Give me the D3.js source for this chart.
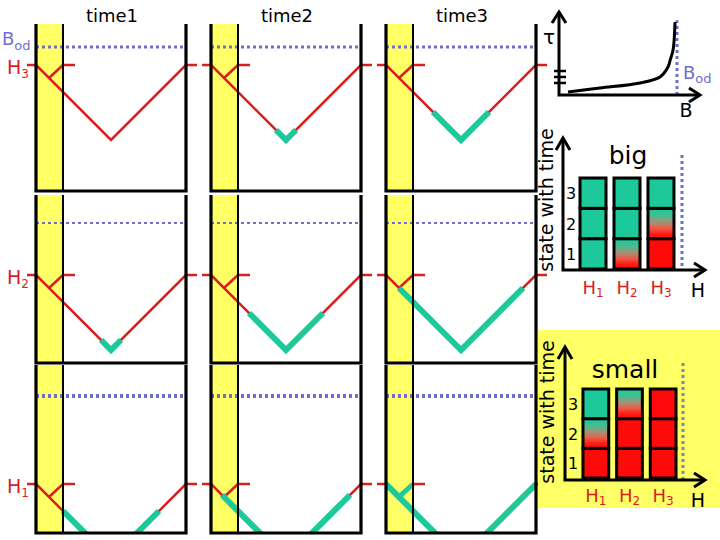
<!DOCTYPE html>
<html><head><meta charset="utf-8">
<script src="https://cdn.jsdelivr.net/npm/d3@7"></script>
<style>body{margin:0;background:#fff} svg{display:block} text{font-family:"Comic Sans MS","DejaVu Sans",sans-serif}</style>
</head><body><svg id="c" width="720" height="540"></svg>
<script>
// ---------- data ----------
const timeLabels = ["time1", "time2", "time3"];
const levelLabels = [["H", "3"], ["H", "2"], ["H", "1"]];
// half-width (panel units, vertex-relative) of the green part of each V, rows H3,H2,H1 x time1..3
const greenExtent = [[0, 10, 28], [10, 37, 62], [48, 64, 75]];
const vShape = [[0, 0], [75, 75], [150, 0]];      // panel units: x, depth below H
const reflectSeg = [[27, 0], [13, 13]];
const tickSegs = [[[-9, 0], [0, 0]], [[27, 0], [39, 0]], [[150, 0], [161, 0]]];
const tauCurve = [[0.064, 0.036], [0.29, 0.084], [0.574, 0.145], [0.716, 0.217], [0.773, 0.337], [0.79, 0.43], [0.809, 0.542], [0.823, 0.88]];
const tauTicks = [0.145, 0.217, 0.289];
const bodValue = 0.837;
const barCats = ["1", "2", "3"];
const stateLevels = [3, 2, 1];
// state per H (H1,H2,H3), per level (1,2,3): 0 red, 1 mixed, 2 green
const bigStates = [[2, 2, 2], [1, 2, 2], [0, 1, 2]];
const smallStates = [[0, 1, 2], [0, 0, 1], [0, 0, 0]];

// ---------- layout ----------
const colLeft = [36, 211, 386], panelW = 150, yellowW = 27;
const rowTop = [24, 195, 365], rowBot = [191, 363, 533];
const hY = [65, 275, 484], bodY = [47, 223, 396], bodW = [3, 1.8, 4];
const RED = "#d91e1e", GREEN = "#1dc99b", BLUE = "#6e6ed2", YEL = "#ffff66", CELLRED = "#ff0a0a";

const svg = d3.select("#c");
const defs = svg.append("defs");
const grad = defs.append("linearGradient").attr("id", "mix").attr("x1", 0).attr("y1", 0).attr("x2", 0).attr("y2", 1);
[[0, GREEN], [0.2, "#38c294"], [0.45, "#a09478"], [0.65, "#ef5a48"], [0.85, "#ff1a12"], [1, "#ff0a0a"]]
  .forEach(s => grad.append("stop").attr("offset", s[0]).attr("stop-color", s[1]));

const line = d3.line();

// ---------- main panels ----------
for (let r = 0; r < 3; r++) {
  for (let c = 0; c < 3; c++) {
    const L = colLeft[c];
    const xs = d3.scaleLinear().domain([0, panelW]).range([L, L + panelW]);
    const ys = d3.scaleLinear().domain([0, 75]).range([hY[r], hY[r] + 75]);
    const g = svg.append("g");
    const cid = `clip${r}${c}`;
    defs.append("clipPath").attr("id", cid).append("rect")
      .attr("x", L).attr("y", rowTop[r]).attr("width", panelW).attr("height", rowBot[r] - rowTop[r]);

    g.append("rect").attr("x", L).attr("y", rowTop[r]).attr("width", yellowW)
      .attr("height", rowBot[r] - rowTop[r]).attr("fill", YEL);

    g.append("line").attr("x1", L).attr("x2", L + panelW).attr("y1", bodY[r]).attr("y2", bodY[r])
      .attr("stroke", BLUE).attr("stroke-width", bodW[r]).attr("stroke-dasharray", "3,3");

    const G = greenExtent[r][c];
    const cg = g.append("g").attr("clip-path", `url(#${cid})`);
    cg.append("path").attr("d", line(vShape.map(p => [xs(p[0]), ys(p[1])])))
      .attr("fill", "none").attr("stroke", RED).attr("stroke-width", 2.5);
    cg.append("path").attr("d", line(reflectSeg.map(p => [xs(p[0]), ys(p[1])])))
      .attr("fill", "none").attr("stroke", G >= 75 ? GREEN : RED).attr("stroke-width", G >= 75 ? 5 : 2.5);
    if (G > 0) {
      const gp = [[75 - G, 75 - G], [75, 75], [75 + G, 75 - G]];
      cg.append("path").attr("d", line(gp.map(p => [xs(p[0]), ys(p[1])])))
        .attr("fill", "none").attr("stroke", GREEN).attr("stroke-width", 6);
    }
    tickSegs.forEach(s => {
      g.append("path").attr("d", line(s.map(p => [xs(p[0]), ys(p[1])])))
        .attr("stroke", RED).attr("stroke-width", 2.5);
    });
    // borders
    g.append("line").attr("x1", L + yellowW).attr("x2", L + yellowW).attr("y1", rowTop[r]).attr("y2", rowBot[r])
      .attr("stroke", "#000").attr("stroke-width", 2);
    g.append("path").attr("d", `M${L},${rowTop[r]}V${rowBot[r]}H${L + panelW}V${rowTop[r]}`)
      .attr("fill", "none").attr("stroke", "#000").attr("stroke-width", 3.2);
  }
}
// time labels
timeLabels.forEach((t, c) => svg.append("text").attr("x", colLeft[c] + 76).attr("y", 22)
  .attr("text-anchor", "middle").attr("font-size", 18).text(t));
// H level labels
levelLabels.forEach((l, r) => {
  const t = svg.append("text").attr("x", 7).attr("y", hY[r] + 9).attr("fill", RED).attr("font-size", 19);
  t.append("tspan").text(l[0]);
  t.append("tspan").attr("font-size", 12).attr("dy", 4).text(l[1]);
});
// Bod label
{
  const t = svg.append("text").attr("x", 2).attr("y", 45).attr("fill", BLUE).attr("font-size", 18);
  t.append("tspan").text("B");
  t.append("tspan").attr("font-size", 13).attr("dy", 5).text("od");
}

// ---------- tau(B) chart ----------
{
  const x = d3.scaleLinear().domain([0, 1]).range([559, 700]);
  const y = d3.scaleLinear().domain([0, 1]).range([95, 12]);
  const g = svg.append("g");
  g.append("line").attr("x1", x(bodValue)).attr("x2", x(bodValue)).attr("y1", y(0)).attr("y2", y(0.9))
    .attr("stroke", BLUE).attr("stroke-width", 3).attr("stroke-dasharray", "3,3");
  g.append("path").attr("d", d3.line().x(d => x(d[0])).y(d => y(d[1])).curve(d3.curveCatmullRom)(tauCurve))
    .attr("fill", "none").attr("stroke", "#000").attr("stroke-width", 3);
  g.append("path").attr("d", `M${x(0)},${y(1)}V${y(0)}H${x(1)}`).attr("fill", "none").attr("stroke", "#000").attr("stroke-width", 3);
  g.append("path").attr("d", `M${x(0) - 7},${y(1) + 11}L${x(0)},${y(1)}L${x(0) + 7},${y(1) + 11}`).attr("fill", "none").attr("stroke", "#000").attr("stroke-width", 3);
  g.append("path").attr("d", `M${x(1) - 11},${y(0) - 7}L${x(1)},${y(0)}L${x(1) - 11},${y(0) + 7}`).attr("fill", "none").attr("stroke", "#000").attr("stroke-width", 3);
  tauTicks.forEach(v => g.append("line").attr("x1", x(0) - 5).attr("x2", x(0) + 7).attr("y1", y(v)).attr("y2", y(v))
    .attr("stroke", "#000").attr("stroke-width", 2.5));
  g.append("text").attr("x", 543).attr("y", 44).attr("font-size", 20).text("τ");
  g.append("text").attr("x", 686).attr("y", 117).attr("text-anchor", "middle").attr("font-size", 19).text("B");
  const t = g.append("text").attr("x", 683).attr("y", 79).attr("fill", BLUE).attr("font-size", 18);
  t.append("tspan").text("B");
  t.append("tspan").attr("font-size", 13).attr("dy", 4).text("od");
}

// ---------- state charts ----------
function stateChart(o) {
  const g = svg.append("g");
  if (o.bg) g.append("rect").attr("x", o.bg[0]).attr("y", o.bg[1]).attr("width", o.bg[2]).attr("height", o.bg[3]).attr("fill", YEL);
  const x = d3.scaleBand().domain(barCats).range(o.xr).paddingInner(0.235).paddingOuter(0.118);
  const y = d3.scaleBand().domain(stateLevels).range(o.yr);
  g.append("line").attr("x1", o.dotX).attr("x2", o.dotX).attr("y1", o.dotTop).attr("y2", o.ax[1])
    .attr("stroke", o.dotColor).attr("stroke-width", 3).attr("stroke-dasharray", "3,3");
  o.states.forEach((col, i) => {
    col.forEach((s, j) => {
      g.append("rect").attr("x", x(barCats[i])).attr("y", y(j + 1)).attr("width", x.bandwidth()).attr("height", y.bandwidth())
        .attr("fill", s === 0 ? CELLRED : s === 1 ? "url(#mix)" : GREEN).attr("stroke", "#000").attr("stroke-width", 3);
    });
    const t = g.append("text").attr("x", x(barCats[i]) + x.bandwidth() / 2).attr("y", o.hLabY)
      .attr("text-anchor", "middle").attr("fill", RED).attr("font-size", 18);
    t.append("tspan").text("H");
    t.append("tspan").attr("font-size", 12).attr("dy", 3).text(barCats[i]);
  });
  stateLevels.forEach(v => g.append("text").attr("x", o.ax[0] + 8).attr("y", y(v) + y.bandwidth() / 2 + 6)
    .attr("text-anchor", "middle").attr("font-size", 16).text(v));
  const [ax0, ay0, axTop, axRight] = [o.ax[0], o.ax[1], o.ax[2], o.ax[3]];
  g.append("path").attr("d", `M${ax0},${axTop}V${ay0}H${axRight}`).attr("fill", "none").attr("stroke", "#000").attr("stroke-width", 3);
  g.append("path").attr("d", `M${ax0 - 7},${axTop + 12}L${ax0},${axTop}L${ax0 + 7},${axTop + 12}`).attr("fill", "none").attr("stroke", "#000").attr("stroke-width", 3);
  g.append("path").attr("d", `M${axRight - 11},${ay0 - 7}L${axRight},${ay0}L${axRight - 11},${ay0 + 7}`).attr("fill", "none").attr("stroke", "#000").attr("stroke-width", 3);
  g.append("text").attr("x", axRight - 7).attr("y", o.hAxY).attr("text-anchor", "middle").attr("font-size", 19).text("H");
  g.append("text").attr("x", o.title[1]).attr("y", o.title[2]).attr("text-anchor", "middle").attr("font-size", 25).text(o.title[0]);
  g.append("text").attr("transform", `translate(${o.side[0]},${o.side[1]}) rotate(-90)`).attr("text-anchor", "middle")
    .attr("font-size", 19).text("state with time");
}
stateChart({
  states: bigStates, xr: [576, 678], yr: [178, 269], ax: [563, 270, 138, 705],
  dotX: 682, dotTop: 155, dotColor: BLUE, hLabY: 294, hAxY: 297,
  title: ["big", 628, 164], side: [553, 200]
});
stateChart({
  bg: [538, 330, 182, 178],
  states: smallStates, xr: [579, 680], yr: [389, 478], ax: [565, 480, 347, 705],
  dotX: 683, dotTop: 363, dotColor: "#8484b4", hLabY: 502, hAxY: 507,
  title: ["small", 625, 378], side: [554, 412]
});
</script></body></html>
